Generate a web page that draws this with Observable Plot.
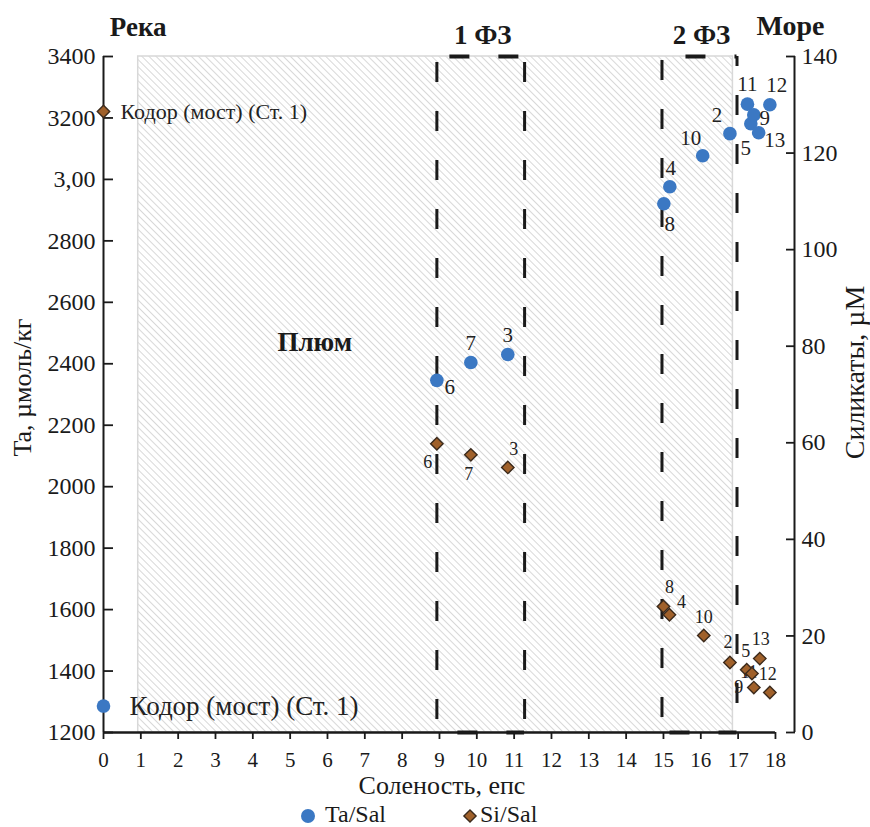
<!DOCTYPE html>
<html><head><meta charset="utf-8">
<script src="https://cdn.jsdelivr.net/npm/d3@7"></script>
<script src="https://cdn.jsdelivr.net/npm/@observablehq/plot@0.6"></script>
<style>
body{margin:0;background:#fff;}
#wrap{position:relative;width:870px;height:827px;overflow:hidden;}
#legend{position:absolute;top:799px;left:0;width:870px;height:28px;}
</style></head><body><div id="wrap"><div id="chart"></div><div id="legend"></div></div>
<script>
// ---- data ----
const taStations = ["Кодор (мост) (Ст. 1)","6","7","3","8","4","10","2","11","5","9","13","12"];
const taSalinity = [0, 8.93, 9.84, 10.83, 15.01, 15.17, 16.05, 16.78, 17.25, 17.34, 17.42, 17.55, 17.85];
const taValues   = [1286, 2346, 2404, 2430, 2921, 2976, 3077, 3149, 3245, 3181, 3210, 3152, 3243];

const siStations = ["Кодор (мост) (Ст. 1)","6","7","3","8","4","10","2","5","11","13","9","12"];
const siSalinity = [0, 8.93, 9.84, 10.83, 15.0, 15.16, 16.08, 16.78, 17.23, 17.37, 17.58, 17.42, 17.85];
const siValues   = [128.6, 59.8, 57.5, 54.9, 26.1, 24.4, 20.1, 14.5, 13.0, 12.2, 15.3, 9.3, 8.3];

const salTicks = [0,1,2,3,4,5,6,7,8,9,10,11,12,13,14,15,16,17,18];
const taTicks = [1200,1400,1600,1800,2000,2200,2400,2600,2800,3000,3200,3400];
const taTickLabels = ["1200","1400","1600","1800","2000","2200","2400","2600","2800","3,00","3200","3400"];
const siTicks = [0,20,40,60,80,100,120,140];

const plumeBox = [{from: 0.93, to: 16.86, bottom: 1200, top: 3400}];
const frontZones = [{name: "1 ФЗ", from: 8.93, to: 11.28}, {name: "2 ФЗ", from: 14.96, to: 16.97}];
const plumeLabel = [{text: "Плюм", sal: 5.66, ta: 2469}];
const riverLabel = "Река", seaLabel = "Море";
const xTitle = "Соленость, епс", yTitle = "Ta, µмоль/кг", y2Title = "Силикаты, µМ";
const legendItems = ["Ta/Sal", "Si/Sal"];

// ---- layout / style ----
const taDomain = [1200, 3400], siDomain = [0, 140];
const salDomain = [0, 18.51];
const toTa = si => taDomain[0] + (si - siDomain[0]) * (taDomain[1] - taDomain[0]) / (siDomain[1] - siDomain[0]);
const blue = "#3b78c3", brown = "#a0612b", brownStroke = "#3b2a1c", ink = "#1a1a1a";
const serif = "'Liberation Serif','Times New Roman',serif";

const taLabelOffset = {"6":[13,7],"7":[0,-19],"3":[0,-19],"8":[6,21],"4":[1,-19],"10":[-12,-17],"2":[-13,-18],"11":[0,-20],"5":[-5,24],"9":[11,3],"13":[16,8],"12":[7,-19]};
const siLabelOffset = {"6":[-9,18],"7":[-2,19],"3":[6,-18],"8":[6,-19],"4":[12,-12],"10":[0,-18],"2":[-2,-20],"5":[-1,-18],"11":[-3,-1],"13":[1,-19],"9":[-15,0],"12":[-2,-18]};

const ta = taStations.map((s, i) => ({st: s, sal: taSalinity[i], v: taValues[i]}));
const si = siStations.map((s, i) => ({st: s, sal: siSalinity[i], v: siValues[i], y: toTa(siValues[i])}));
const kodorTa = ta.filter(d => d.sal === 0), kodorSi = si.filter(d => d.sal === 0);
const taSt = ta.filter(d => d.sal > 0), siSt = si.filter(d => d.sal > 0);

const dashA = "20,29";
function vline(x, phase) {
  return Plot.ruleX([{x, y1: taDomain[1], y2: taDomain[0]}], {x: "x", y1: "y1", y2: "y2", stroke: ink, strokeWidth: 3, strokeDasharray: dashA, strokeDashoffset: 49 - phase});
}
function hline(z, y, offset) {
  return Plot.ruleY([{y, x1: z.from, x2: z.to}], {y: "y", x1: "x1", x2: "x2", stroke: ink, strokeWidth: 4, strokeDasharray: dashA, strokeDashoffset: offset});
}

const marks = [
  Plot.rect(plumeBox, {x1: "from", x2: "to", y1: "bottom", y2: "top", fill: "url(#hatch)", stroke: "#d8d8d8", strokeWidth: 1.5}),
  vline(frontZones[0].from, 6), vline(frontZones[0].to, 6),
  vline(frontZones[1].from, 4), vline(frontZones[1].to, 39),
  hline(frontZones[0], taDomain[1], 36), hline(frontZones[0], taDomain[0], 28),
  hline(frontZones[1], taDomain[1], 25), hline(frontZones[1], taDomain[0], 41),
  // axis lines
  Plot.ruleX([salDomain[0]], {y1: taDomain[0], y2: taDomain[1], stroke: ink, strokeWidth: 2}),
  Plot.ruleX([salDomain[1]], {y1: taDomain[0], y2: taDomain[1], stroke: ink, strokeWidth: 2}),
  Plot.ruleY([taDomain[0]], {x1: salTicks[0], x2: salTicks[salTicks.length - 1], stroke: ink, strokeWidth: 2.5}),
  Plot.axisX(salTicks, {anchor: "bottom", tickSize: 7, tickPadding: 13, strokeWidth: 1.8, label: null, fontSize: 21, fill: ink}),
  Plot.axisY(taTicks, {anchor: "left", tickSize: -10, tickPadding: 18, strokeWidth: 1.8, label: null, fontSize: 24, fill: ink, tickFormat: d => taTickLabels[taTicks.indexOf(d)]}),
  Plot.axisY(siTicks.map(toTa), {anchor: "right", tickSize: -9, tickPadding: 16, strokeWidth: 1.8, label: null, fontSize: 24, fill: ink, tickFormat: d => String(siTicks[siTicks.map(toTa).indexOf(d)])}),
  // titles
  Plot.text([yTitle], {frameAnchor: "left", textAnchor: "middle", lineAnchor: "middle", rotate: -90, dx: -81, dy: -7, fontSize: 26, fill: ink}),
  Plot.text([y2Title], {frameAnchor: "right", textAnchor: "middle", lineAnchor: "middle", rotate: -90, dx: 61, dy: -22, fontSize: 28, fill: ink}),
  Plot.text([xTitle], {frameAnchor: "bottom", textAnchor: "middle", lineAnchor: "middle", dx: -7, dy: 53, fontSize: 26, fill: ink}),
  Plot.text([riverLabel], {x: () => plumeBox[0].from, y: () => taDomain[1], dy: -29, fontSize: 27, fontWeight: "bold", fill: ink}),
  Plot.text([seaLabel], {x: () => salDomain[1], y: () => taDomain[1], dy: -30, dx: -4, fontSize: 28, fontWeight: "bold", fill: ink}),
  Plot.text(frontZones, {x: d => (d.from + d.to) / 2, y: () => taDomain[1], text: "name", dx: 2, dy: -21, fontSize: 27, fontWeight: "bold", fill: ink}),
  Plot.text(plumeLabel, {x: "sal", y: "ta", text: "text", fontSize: 27, fontWeight: "bold", fill: ink}),
  // Si labels (drawn beneath diamonds)
  ...siSt.map(d => Plot.text([d], {x: "sal", y: "y", text: "st", dx: siLabelOffset[d.st][0], dy: siLabelOffset[d.st][1], fontSize: 18, fill: "#222"})),
  Plot.text(kodorSi, {x: "sal", y: "y", text: "st", dx: 17, textAnchor: "start", fontSize: 22, fill: "#222"}),
  Plot.dot(si, {x: "sal", y: "y", symbol: "diamond2", r: 5.6, fill: brown, stroke: brownStroke, strokeWidth: 1.4}),
  Plot.dot(ta, {x: "sal", y: "v", r: 6.8, fill: blue}),
  ...taSt.map(d => Plot.text([d], {x: "sal", y: "v", text: "st", dx: taLabelOffset[d.st][0], dy: taLabelOffset[d.st][1], fontSize: 21, fill: "#222"})),
  Plot.text(kodorTa, {x: "sal", y: "v", text: "st", dx: 26, textAnchor: "start", fontSize: 27, fill: "#222"})
];

const plot = Plot.plot({
  width: 870, height: 799,
  marginLeft: 103, marginRight: 76, marginTop: 56, marginBottom: 67,
  x: {domain: salDomain},
  y: {domain: taDomain},
  style: {fontFamily: serif, fontSize: "24px", color: ink, background: "white", overflow: "visible"},
  marks
});
d3.select(plot).insert("defs", ":first-child").html(
  `<pattern id="hatch" patternUnits="userSpaceOnUse" width="5" height="5" patternTransform="rotate(-45)">
     <rect width="5" height="5" fill="white"/>
     <line x1="0" y1="0" x2="0" y2="5" stroke="#c4c4c4" stroke-width="1.3"/>
   </pattern>`);
document.getElementById("chart").appendChild(plot);

// legend
const lg = d3.select("#legend").append("svg").attr("width", 870).attr("height", 28)
  .style("font-family", serif).style("font-size", "24px");
lg.append("circle").attr("cx", 308).attr("cy", 17).attr("r", 7).attr("fill", blue);
lg.append("text").attr("x", 325).attr("y", 22.5).attr("fill", ink).text(legendItems[0]);
lg.append("path").attr("d", d3.symbol(d3.symbolDiamond2, 95)()).attr("transform", "translate(470,17)").attr("fill", brown).attr("stroke", brownStroke).attr("stroke-width", 1.4);
lg.append("text").attr("x", 480).attr("y", 22.5).attr("fill", ink).text(legendItems[1]);
</script></body></html>
